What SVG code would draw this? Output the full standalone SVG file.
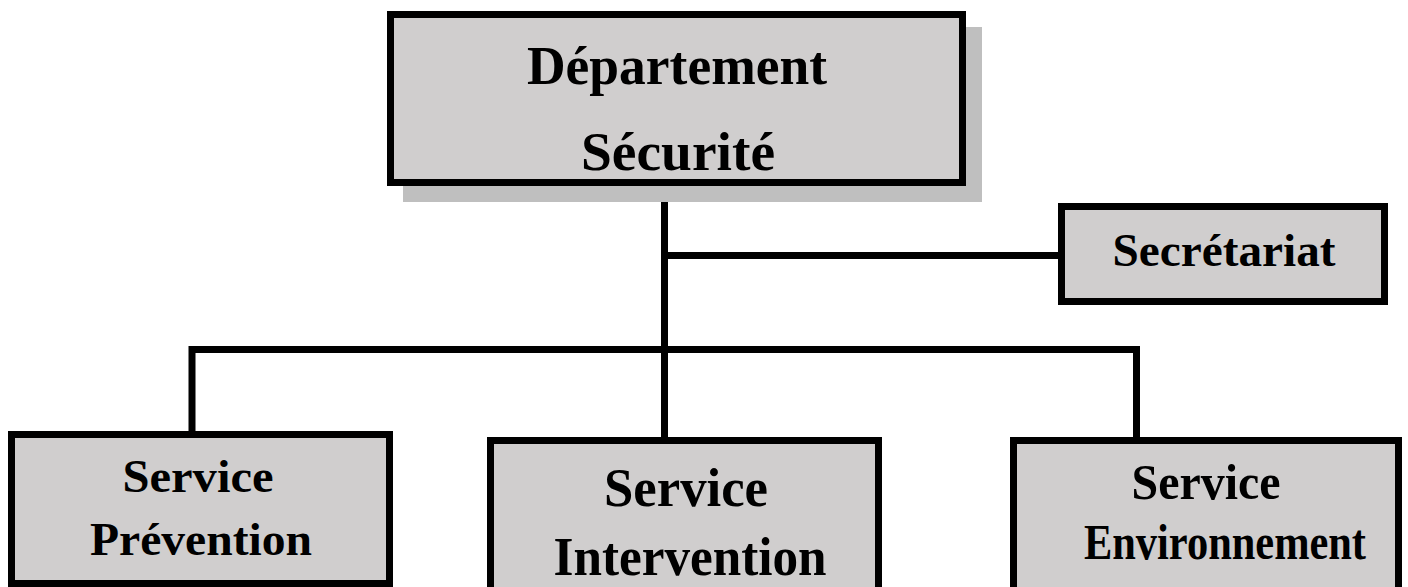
<svg xmlns="http://www.w3.org/2000/svg" width="1408" height="587" viewBox="0 0 1408 587">
<style>
.box{fill:#d0cece;stroke:#000;stroke-width:7}
.shadow{fill:#bfbfbf}
.ln{stroke:#000;stroke-width:7;fill:none;stroke-linecap:square}
text{font-family:"Liberation Serif","Times New Roman",serif;font-weight:bold;fill:#000;text-anchor:middle}
</style>
<rect x="0" y="0" width="1408" height="587" fill="#fff"/>
<g id="connectors">
<line class="ln" x1="664.5" y1="186" x2="664.5" y2="440"/>
<line class="ln" x1="664.5" y1="255.5" x2="1060" y2="255.5"/>
<polyline class="ln" points="192,432 192,349.5 1136.5,349.5 1136.5,440"/>
</g>
<g id="dept">
<rect class="shadow" x="403" y="27" width="579" height="175"/>
<rect class="box" x="390.5" y="14.5" width="572" height="168"/>
<text x="677" y="84" font-size="54" textLength="300" lengthAdjust="spacingAndGlyphs">Département</text>
<text x="678" y="170" font-size="54" textLength="194" lengthAdjust="spacingAndGlyphs">Sécurité</text>
</g>
<g id="secretariat">
<rect class="box" x="1061.5" y="206.5" width="323" height="95"/>
<text x="1224" y="266" font-size="47" textLength="223" lengthAdjust="spacingAndGlyphs">Secrétariat</text>
</g>
<g id="prevention">
<rect class="box" x="11.5" y="434.5" width="378" height="149"/>
<text x="198" y="492" font-size="47" textLength="151" lengthAdjust="spacingAndGlyphs">Service</text>
<text x="201" y="555" font-size="47" textLength="222" lengthAdjust="spacingAndGlyphs">Prévention</text>
</g>
<g id="intervention">
<rect class="box" x="490.5" y="440.5" width="388" height="160"/>
<text x="686" y="506" font-size="54" textLength="164" lengthAdjust="spacingAndGlyphs">Service</text>
<text x="690" y="575" font-size="54" textLength="273" lengthAdjust="spacingAndGlyphs">Intervention</text>
</g>
<g id="environnement">
<rect class="box" x="1013.5" y="440.5" width="385" height="160"/>
<text x="1206" y="499" font-size="51" textLength="149" lengthAdjust="spacingAndGlyphs">Service</text>
<text x="1225" y="559" font-size="51" textLength="282" lengthAdjust="spacingAndGlyphs">Environnement</text>
</g>
</svg>
